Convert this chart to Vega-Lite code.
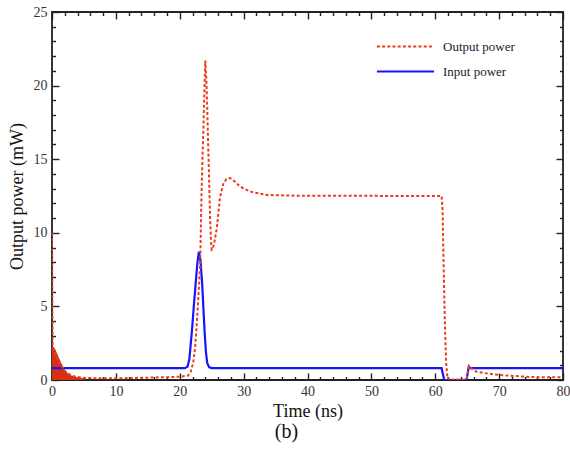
{
  "$schema": "https://vega.github.io/schema/vega-lite/v6.json",
  "width": 511,
  "height": 368,
  "autosize": {"type": "none"},
  "padding": {"left": 52, "top": 12, "right": 7, "bottom": 80},
  "background": "white",
  "title": {"text": "(b)", "orient": "bottom", "anchor": "middle", "dx": -21, "offset": 2, "fontSize": 20, "font": "Times New Roman", "fontWeight": "normal", "color": "#111"},
  "config": {
    "view": {"stroke": "#222", "strokeWidth": 1.8},
    "axis": {"domain": false, "grid": false, "ticks": true, "labelFlush": false, "labelOverlap": false, "tickColor": "#222", "tickWidth": 1.4, "labelFont": "Times New Roman", "labelFontSize": 14, "labelColor": "#333", "titleFont": "Times New Roman", "titleFontSize": 18, "titleFontWeight": "normal", "titleColor": "#111"},
    "legend": {"labelFont": "Times New Roman", "labelFontSize": 13, "labelColor": "#222"}
  },
  "datasets": {
    "power": [
      {"t": 0, "p": 10, "s": "Output power"},
      {"t": 0.1, "p": 2.2, "s": "Output power"},
      {"t": 0.5, "p": 1.8, "s": "Output power"},
      {"t": 1, "p": 1.3, "s": "Output power"},
      {"t": 1.5, "p": 0.95, "s": "Output power"},
      {"t": 2, "p": 0.6, "s": "Output power"},
      {"t": 3, "p": 0.3, "s": "Output power"},
      {"t": 4, "p": 0.2, "s": "Output power"},
      {"t": 5, "p": 0.14, "s": "Output power"},
      {"t": 8, "p": 0.11, "s": "Output power"},
      {"t": 12, "p": 0.13, "s": "Output power"},
      {"t": 16, "p": 0.17, "s": "Output power"},
      {"t": 20, "p": 0.22, "s": "Output power"},
      {"t": 21.3, "p": 0.3, "s": "Output power"},
      {"t": 21.7, "p": 0.55, "s": "Output power"},
      {"t": 22.1, "p": 1.15, "s": "Output power"},
      {"t": 22.4, "p": 2.2, "s": "Output power"},
      {"t": 22.6, "p": 3.4, "s": "Output power"},
      {"t": 22.9, "p": 5.5, "s": "Output power"},
      {"t": 23.2, "p": 7.9, "s": "Output power"},
      {"t": 23.4, "p": 12.5, "s": "Output power"},
      {"t": 23.55, "p": 15, "s": "Output power"},
      {"t": 23.7, "p": 17, "s": "Output power"},
      {"t": 23.85, "p": 19.5, "s": "Output power"},
      {"t": 24.0, "p": 21.7, "s": "Output power"},
      {"t": 24.15, "p": 20.5, "s": "Output power"},
      {"t": 24.3, "p": 18.5, "s": "Output power"},
      {"t": 24.45, "p": 16, "s": "Output power"},
      {"t": 24.6, "p": 13.6, "s": "Output power"},
      {"t": 24.75, "p": 11, "s": "Output power"},
      {"t": 24.9, "p": 9.4, "s": "Output power"},
      {"t": 25.0, "p": 8.85, "s": "Output power"},
      {"t": 25.15, "p": 8.9, "s": "Output power"},
      {"t": 25.4, "p": 9.3, "s": "Output power"},
      {"t": 25.8, "p": 10.3, "s": "Output power"},
      {"t": 26.3, "p": 12.4, "s": "Output power"},
      {"t": 26.8, "p": 13.3, "s": "Output power"},
      {"t": 27.3, "p": 13.65, "s": "Output power"},
      {"t": 27.9, "p": 13.72, "s": "Output power"},
      {"t": 28.6, "p": 13.5, "s": "Output power"},
      {"t": 29.4, "p": 13.15, "s": "Output power"},
      {"t": 31, "p": 12.8, "s": "Output power"},
      {"t": 33.6, "p": 12.57, "s": "Output power"},
      {"t": 38, "p": 12.52, "s": "Output power"},
      {"t": 61.0, "p": 12.5, "s": "Output power"},
      {"t": 61.15, "p": 11.5, "s": "Output power"},
      {"t": 61.3, "p": 8, "s": "Output power"},
      {"t": 61.5, "p": 4, "s": "Output power"},
      {"t": 61.7, "p": 1.2, "s": "Output power"},
      {"t": 61.9, "p": 0.2, "s": "Output power"},
      {"t": 62.2, "p": 0.03, "s": "Output power"},
      {"t": 64.9, "p": 0.03, "s": "Output power"},
      {"t": 65.1, "p": 0.55, "s": "Output power"},
      {"t": 65.3, "p": 0.95, "s": "Output power"},
      {"t": 65.6, "p": 0.8, "s": "Output power"},
      {"t": 66.5, "p": 0.56, "s": "Output power"},
      {"t": 68, "p": 0.45, "s": "Output power"},
      {"t": 70, "p": 0.34, "s": "Output power"},
      {"t": 75, "p": 0.2, "s": "Output power"},
      {"t": 80, "p": 0.18, "s": "Output power"},
      {"t": 0, "p": 0.8, "s": "Input power"},
      {"t": 20.8, "p": 0.8, "s": "Input power"},
      {"t": 21.2, "p": 0.9, "s": "Input power"},
      {"t": 21.5, "p": 1.4, "s": "Input power"},
      {"t": 21.9, "p": 3.3, "s": "Input power"},
      {"t": 22.2, "p": 5.0, "s": "Input power"},
      {"t": 22.5, "p": 6.6, "s": "Input power"},
      {"t": 22.75, "p": 7.9, "s": "Input power"},
      {"t": 23.0, "p": 8.72, "s": "Input power"},
      {"t": 23.25, "p": 8.1, "s": "Input power"},
      {"t": 23.5, "p": 6.6, "s": "Input power"},
      {"t": 23.7, "p": 4.9, "s": "Input power"},
      {"t": 23.9, "p": 3.2, "s": "Input power"},
      {"t": 24.1, "p": 1.9, "s": "Input power"},
      {"t": 24.3, "p": 1.15, "s": "Input power"},
      {"t": 24.6, "p": 0.87, "s": "Input power"},
      {"t": 25.0, "p": 0.8, "s": "Input power"},
      {"t": 61.0, "p": 0.8, "s": "Input power"},
      {"t": 61.4, "p": 0.0, "s": "Input power"},
      {"t": 64.9, "p": 0.0, "s": "Input power"},
      {"t": 65.25, "p": 0.9, "s": "Input power"},
      {"t": 65.5, "p": 0.8, "s": "Input power"},
      {"t": 80, "p": 0.8, "s": "Input power"}
    ],
    "noise": [
      {"t": 0, "p": 2.3},
      {"t": 0.3, "p": 2.25},
      {"t": 0.6, "p": 2.0},
      {"t": 1.0, "p": 1.6},
      {"t": 1.5, "p": 1.1},
      {"t": 2.0, "p": 0.7},
      {"t": 2.5, "p": 0.45},
      {"t": 3.0, "p": 0.3},
      {"t": 4.0, "p": 0.18},
      {"t": 5.0, "p": 0.12}
    ]
  },
  "layer": [
    {
      "data": {"name": "noise"},
      "mark": {"type": "area", "color": "#d8300e", "opacity": 1, "clip": true},
      "encoding": {
        "x": {"field": "t", "type": "quantitative", "scale": {"domain": [0, 80], "nice": false},
              "axis": {"orient": "top", "title": null, "labels": false, "values": [0,10,20,30,40,50,60,70,80], "offset": -7, "tickSize": 7}},
        "y": {"field": "p", "type": "quantitative", "scale": {"domain": [0, 25], "nice": false},
              "axis": {"orient": "right", "title": null, "labels": false, "values": [0,5,10,15,20,25], "offset": -7, "tickSize": 7}}
      }
    },
    {
      "data": {"name": "power"},
      "transform": [{"filter": "datum.s === 'Input power'"}],
      "mark": {"type": "line", "strokeWidth": 2.2, "clip": true},
      "encoding": {
        "x": {"field": "t", "type": "quantitative", "scale": {"domain": [0, 80], "nice": false},
              "axis": {"orient": "top", "title": null, "labels": false, "values": [2,4,6,8,12,14,16,18,22,24,26,28,32,34,36,38,42,44,46,48,52,54,56,58,62,64,66,68,72,74,76,78], "offset": -3.5, "tickSize": 3.5}},
        "y": {"field": "p", "type": "quantitative", "scale": {"domain": [0, 25], "nice": false},
              "axis": {"orient": "right", "title": null, "labels": false, "values": [1,2,3,4,6,7,8,9,11,12,13,14,16,17,18,19,21,22,23,24], "offset": -3.5, "tickSize": 3.5}},
        "color": {"field": "s", "type": "nominal", "scale": {"domain": ["Output power", "Input power"], "range": ["#ea3d1c", "#1414ff"]}},
        "strokeDash": {"field": "s", "type": "nominal", "scale": {"domain": ["Output power", "Input power"], "range": [[3, 2.2], [1, 0]]}}
      }
    },
    {
      "data": {"name": "power"},
      "transform": [{"filter": "datum.s === 'Output power' && datum.t <= 61.9"}],
      "mark": {"type": "line", "strokeWidth": 2, "clip": true},
      "encoding": {
        "x": {"field": "t", "type": "quantitative", "scale": {"domain": [0, 80], "nice": false},
              "axis": {"orient": "bottom", "title": null, "labels": false, "values": [2,4,6,8,12,14,16,18,22,24,26,28,32,34,36,38,42,44,46,48,52,54,56,58,62,64,66,68,72,74,76,78], "offset": -3.5, "tickSize": 3.5}},
        "y": {"field": "p", "type": "quantitative", "scale": {"domain": [0, 25], "nice": false},
              "axis": {"orient": "left", "title": null, "labels": false, "values": [1,2,3,4,6,7,8,9,11,12,13,14,16,17,18,19,21,22,23,24], "offset": -3.5, "tickSize": 3.5}},
        "color": {"field": "s", "type": "nominal", "scale": {"domain": ["Output power", "Input power"], "range": ["#ea3d1c", "#1414ff"]}},
        "strokeDash": {"field": "s", "type": "nominal", "scale": {"domain": ["Output power", "Input power"], "range": [[3, 2.2], [1, 0]]}}
      }
    },
    {
      "data": {"name": "power"},
      "transform": [{"filter": "datum.s === 'Output power' && datum.t >= 61.9"}],
      "mark": {"type": "line", "strokeWidth": 2, "clip": true},
      "encoding": {
        "x": {"field": "t", "type": "quantitative", "scale": {"domain": [0, 80], "nice": false},
              "axis": {"orient": "bottom", "title": "Time (ns)", "titlePadding": 4, "labelPadding": 4, "values": [0,10,20,30,40,50,60,70,80], "offset": -7, "tickSize": 7}},
        "y": {"field": "p", "type": "quantitative", "scale": {"domain": [0, 25], "nice": false},
              "axis": {"orient": "left", "title": "Output power (mW)", "titlePadding": 7, "labelPadding": 5, "values": [0,5,10,15,20,25], "offset": -7, "tickSize": 7}},
        "color": {"field": "s", "type": "nominal", "scale": {"domain": ["Output power", "Input power"], "range": ["#ea3d1c", "#1414ff"]},
                  "legend": {"title": null, "orient": "none", "legendX": 347, "legendY": 28, "symbolType": "M-5.2,0H5.2", "symbolSize": 121, "symbolStrokeWidth": 2, "labelOffset": 31, "rowPadding": 11, "values": ["Output power", "Input power"]}},
        "strokeDash": {"field": "s", "type": "nominal", "scale": {"domain": ["Output power", "Input power"], "range": [[3, 2.2], [1, 0]]},
                  "legend": {"title": null, "orient": "none", "legendX": 347, "legendY": 28, "symbolType": "M-5.2,0H5.2", "symbolSize": 121, "symbolStrokeWidth": 2, "labelOffset": 31, "rowPadding": 11, "values": ["Output power", "Input power"]}}
      }
    }
  ],
  "resolve": {"scale": {"x": "independent", "y": "independent"}}
}
